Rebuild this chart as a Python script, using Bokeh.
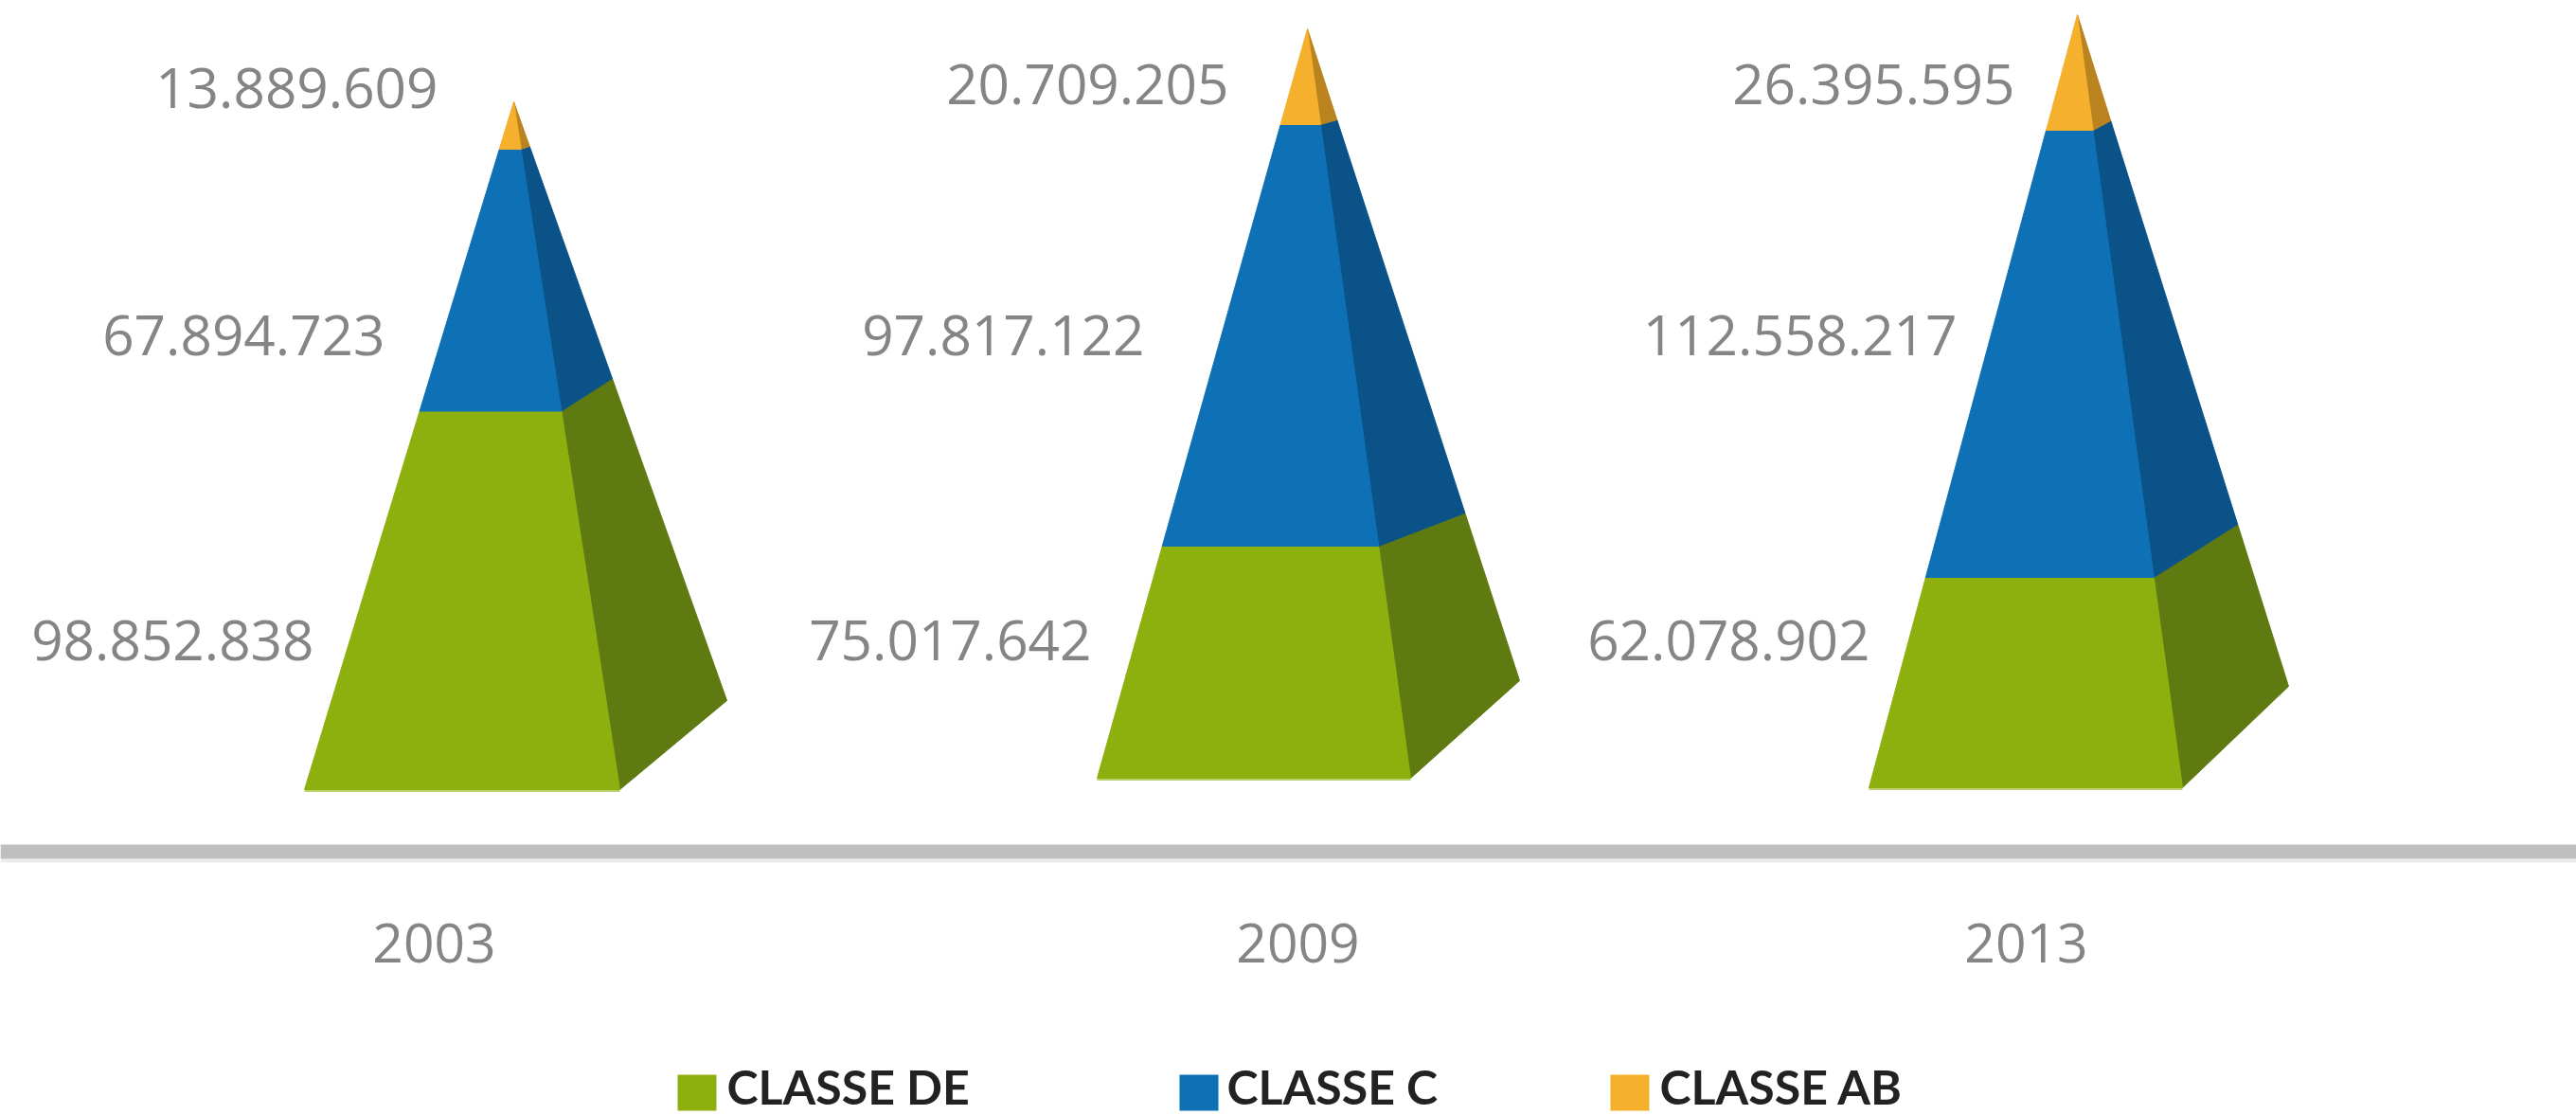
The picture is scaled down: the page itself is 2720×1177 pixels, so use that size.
from bokeh.plotting import figure
from bokeh.models import ColumnDataSource, Range1d, Span
from bokeh.core.properties import value
from bokeh.embed import file_html
from bokeh.resources import INLINE

# ---- values ----
years = ["2003", "2009", "2013"]
classe_de = [98852838, 75017642, 62078902]
classe_c = [67894723, 97817122, 112558217]
classe_ab = [13889609, 20709205, 26395595]
legend_names = ["CLASSE DE", "CLASSE C", "CLASSE AB"]

# ---- pyramid shape, in picture pixels (the drawn heights are not proportional to the values) ----
apex_x = [542, 1380, 2193]
apex_y = [107, 30, 15]
base_y = [833, 821, 831]
base_left = [321, 1158, 1973]
base_right = [654, 1489, 2304]
back_x = [767, 1604, 2416]
back_y = [739, 718, 724]
de_top_front = [433.5, 576, 609]
c_top_front = [157, 131, 137]
de_top_back = [399, 541, 553]
c_top_back = [154, 126, 127]

# ---- label placement ----
year_x = [458, 1370, 2139]
year_y = 995
ab_label = ([462, 1297, 2127], [92, 88, 88])
c_label = ([406, 1208, 2066], [353, 353, 353])
de_label = ([331, 1152, 1974], [675, 675, 675])
legend_box = [715, 1245, 1700]
legend_text = [767, 1295, 1752]

# ---- colours ----
front = ["#8db00f", "#0e70b5", "#f5b02d"]
side = ["#5e7a10", "#0a5288", "#b98420"]
grey = "#858585"

W, H = 2720, 1177
p = figure(width=W, height=H, output_backend="svg", toolbar_location=None,
           x_range=Range1d(0, W), y_range=Range1d(H, 0),
           x_axis_type=None, y_axis_type=None, min_border=0,
           background_fill_color="white", border_fill_color="white")
p.outline_line_color = None
p.grid.visible = False


def at(x0, y0, x1, y1, y):
    """x on the straight edge from the apex (x0,y0) to the base corner (x1,y1) at height y."""
    return x0 + (x1 - x0) * (y - y0) / (y1 - y0)


fx, fy, fc, sx, sy, sc = [], [], [], [], [], []
for i in range(3):
    ax, ay = apex_x[i], apex_y[i]
    levels_f = [base_y[i], de_top_front[i], c_top_front[i], ay]
    levels_b = [back_y[i], de_top_back[i], c_top_back[i], ay]
    for b in range(3):
        yl, yu = levels_f[b], levels_f[b + 1]
        fx.append([at(ax, ay, base_left[i], base_y[i], yl), at(ax, ay, base_right[i], base_y[i], yl),
                   at(ax, ay, base_right[i], base_y[i], yu), at(ax, ay, base_left[i], base_y[i], yu)])
        fy.append([yl, yl, yu, yu])
        fc.append(front[b])
        by, bu = levels_b[b], levels_b[b + 1]
        sx.append([at(ax, ay, base_right[i], base_y[i], yl), at(ax, ay, back_x[i], back_y[i], by),
                   at(ax, ay, back_x[i], back_y[i], bu), at(ax, ay, base_right[i], base_y[i], yu)])
        sy.append([yl, by, bu, yu])
        sc.append(side[b])

p.patches("xs", "ys", source=ColumnDataSource(dict(xs=sx, ys=sy, c=sc)),
          fill_color="c", line_color="c", line_width=1)
p.patches("xs", "ys", source=ColumnDataSource(dict(xs=fx, ys=fy, c=fc)),
          fill_color="c", line_color="c", line_width=1)

# pale rim under the front faces
p.segment(base_left, [y + 1.5 for y in base_y], base_right, [y + 1.5 for y in base_y],
          line_color="#bdd06e", line_width=2)

# base line with its soft lower edge
p.add_layout(Span(location=908, dimension="width", line_color="#ececec", line_width=4))
p.add_layout(Span(location=898.5, dimension="width", line_color="#bfbfbf", line_width=15))


def fmt(v):
    return f"{v:,}".replace(",", ".")


num_font = value("Open Sans")
for vals, (lx, ly) in ((classe_ab, ab_label), (classe_c, c_label), (classe_de, de_label)):
    p.text(lx, ly, text=[fmt(v) for v in vals], text_font=num_font,
           text_font_size="58.5px", text_color=grey, text_align="right", text_baseline="middle")

p.text(year_x, [year_y] * 3, text=years, text_font=num_font, text_font_size="57px",
       text_color=grey, text_align="center", text_baseline="middle")

# legend
p.quad(left=legend_box, right=[x + 41 for x in legend_box], top=[1134] * 3, bottom=[1172] * 3,
       fill_color=[front[0], front[1], front[2]], line_color=None)
p.text(legend_text, [1146] * 3, text=legend_names, text_font=value("Lato"),
       text_font_size="50px", text_font_style="bold", text_color="#222222",
       text_align="left", text_baseline="middle")

open("out.html", "w").write(file_html(p, INLINE))
